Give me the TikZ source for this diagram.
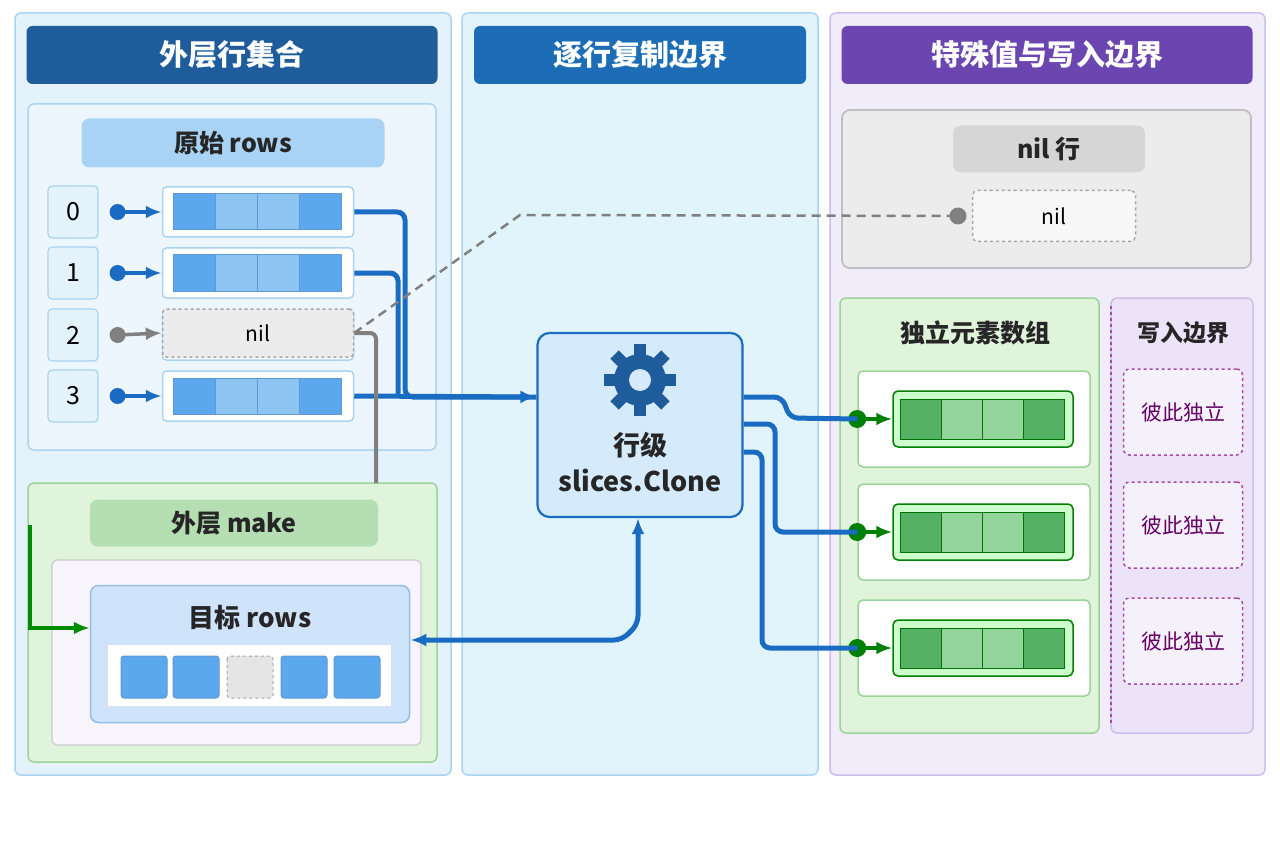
\documentclass[tikz,border=0pt]{standalone}
\usepackage{fontspec}
\setmainfont{Noto Sans CJK SC}
\usetikzlibrary{arrows.meta,positioning,calc}
\definecolor{hdrA}{HTML}{1F5C9C}
\definecolor{hdrB}{HTML}{1C6DB5}
\definecolor{hdrC}{HTML}{6B46B0}
\definecolor{lineB}{HTML}{1A6CC2}
\definecolor{cellB}{HTML}{5BA8EE}
\definecolor{cellBl}{HTML}{8CC4F2}
\definecolor{cellG}{HTML}{55B265}
\definecolor{cellGl}{HTML}{92D49A}
\definecolor{fillA}{HTML}{E4F2FC}
\definecolor{edgeA}{HTML}{A9D3F0}
\definecolor{fillB}{HTML}{E2F4FB}
\definecolor{fillC}{HTML}{F1ECFA}
\definecolor{edgeC}{HTML}{CDBDEC}
\definecolor{fillG}{HTML}{DFF4DA}
\definecolor{edgeG}{HTML}{9CD39A}
\definecolor{fillS}{HTML}{EEF6FD}
\definecolor{fillD}{HTML}{CFE3FA}
\definecolor{fillK}{HTML}{D5EAFB}
\definecolor{fillP}{HTML}{ECE3F8}
\tikzset{>={Latex[length=16pt,width=13pt]}}
\tikzstyle{panel} = [draw=#1, rounded corners=6pt, line width=1.5pt]
\tikzstyle{hdr} = [fill=#1, rounded corners=6pt, text=white, font=\bfseries\fontsize{29}{32}\selectfont]
\tikzstyle{pill} = [rounded corners=8pt, font=\bfseries\fontsize{25}{28}\selectfont, text=black!85]
\tikzstyle{flow} = [draw=lineB, line width=5pt, rounded corners=8pt]
\tikzstyle{cell} = [draw=lineB!70, fill=#1, line width=1pt]
\begin{document}
\begin{tikzpicture}[x=1pt,y=-1pt]
      \useasboundingbox (0,0) rectangle (1280,853);
      \fill[white] (0,0) rectangle (1280,853);
      % three columns
      \draw[panel=edgeA, fill=fillA] (15,13) rectangle (451,775);
      \draw[panel=edgeA, fill=fillB] (462,13) rectangle (818,775);
      \draw[panel=edgeC, fill=fillC] (830,13) rectangle (1265,775);
      \node[hdr=hdrA, minimum width=411pt, minimum height=58pt] (h1) at (232,55) {外层行集合};
      \node[hdr=hdrB, minimum width=332pt, minimum height=58pt] (h2) at (640,55) {逐行复制边界};
      \node[hdr=hdrC, minimum width=411pt, minimum height=58pt] (h3) at (1047,55) {特殊值与写入边界};
      % source rows
      \draw[panel=edgeA, fill=fillS] (28,104) rectangle (436,450);
      \node[pill, fill=cellBl!75, minimum width=303pt, minimum height=49pt] (src) at (233,143) {原始 rows};
      \foreach \i/\y in {0/212,1/273,2/335,3/396}{
        \node[draw=edgeA, fill=fillA, rounded corners=4pt, line width=1.2pt, minimum width=50pt, minimum height=52pt,
              font=\fontsize{25}{28}\selectfont] (idx\i) at (73,\y) {\i};
        \node[draw=edgeA, fill=white, rounded corners=4pt, line width=1.5pt, minimum width=191pt, minimum height=50pt] (row\i) at (258,\y) {};
      }
      \foreach \i in {0,1,3}{
        \fill[lineB] ($(idx\i.east)+(19,0)$) coordinate (d\i) circle (8pt);
        \draw[lineB, line width=3.5pt, ->] (d\i) -- (row\i.west);
        \foreach \k/\c in {0/cellB,1/cellBl,2/cellBl,3/cellB}
          \draw[cell=\c] ($(row\i.west)+(12+42*\k,-18)$) rectangle ++(42,36);
      }
      \node[draw=gray!70, dashed, fill=gray!15, rounded corners=4pt, line width=1.5pt, minimum width=191pt, minimum height=48pt,
            font=\fontsize{21}{24}\selectfont] (nilrow) at (258,333) {nil};
      \fill[gray] ($(idx2.east)+(19,0)$) coordinate (d2) circle (8pt);
      \draw[gray, line width=3.5pt, ->] (d2) -- (nilrow.west);
      % outer make
      \draw[panel=edgeG, fill=fillG] (28,483) rectangle (437,762);
      \node[pill, fill=edgeG!75, minimum width=288pt, minimum height=47pt] (mk) at (234,523) {外层 make};
      \draw[draw=gray!40, fill=fillC!60, rounded corners=5pt, line width=1.2pt] (52,560) rectangle (421,745);
      \node[draw=lineB!45, fill=fillD, rounded corners=8pt, minimum width=319pt, minimum height=137pt,
            line width=1.5pt] (dst) at (250,654) {};
      \node[font=\bfseries\fontsize{26}{28}\selectfont, text=black!85] at (250,618) {目标 rows};
      \fill[white] (108,645) rectangle (391,706);
      \foreach \x in {121,173,281,334}
        \draw[cell=cellB, rounded corners=3pt] (\x,656) rectangle ++(46,42);
      \draw[gray!70, dashed, fill=gray!20, rounded corners=3pt, line width=1pt] (227,656) rectangle ++(46,42);
      % clone
      \node[draw=lineB, fill=fillK, rounded corners=12pt, line width=2.2pt, minimum width=205pt,
            minimum height=184pt] (clone) at (640,425) {};
      \node[font=\bfseries\fontsize{27}{36}\selectfont, align=center, text=black!85] (ct) at (640,462) {行级\\slices.Clone};
      \begin{scope}[shift={(640,380)}]
        \foreach \a in {0,45,...,315}
          \fill[hdrA, rotate=\a] (-6,-36) rectangle (6,-20);
        \fill[hdrA] (0,0) circle (26pt);
        \fill[fillK] (0,0) circle (11pt);
      \end{scope}
      % source connectors
      \draw[flow] (row0.east) -- (405,212) -- (405,397) -- (clone.west |- 0,397);
      \draw[flow] (row1.east) -- (398,273) -- (398,397);
      \draw[flow,->] (row3.east) -- (clone.west |- 0,397);
      \draw[gray, line width=4pt, rounded corners=6pt] (nilrow.east) -- (376,333) -- (376,483);
      \draw[flow,<->] (dst.east |- 0,640) -- (622,640) -- (638,624) -- (clone.south -| 638,0);
      \draw[green!55!black, line width=4pt, ->] (30,525) -- (30,628) -- (dst.west |- 0,628);
      % nil row panel
      \draw[draw=gray!50, fill=gray!15, rounded corners=8pt, line width=1.8pt] (842,110) rectangle (1251,268);
      \node[pill, fill=gray!32, minimum width=192pt, minimum height=47pt] (niltitle) at (1049,149) {nil 行};
      \node[draw=gray!70, dashed, fill=gray!6, rounded corners=5pt, line width=1.5pt, minimum width=163pt, minimum height=51pt,
            font=\fontsize{21}{24}\selectfont] (nilbox) at (1054,216) {nil};
      \fill[gray] (958,216) coordinate (dn) circle (8.5pt);
      \draw[gray, line width=2.5pt, dash pattern=on 9pt off 6pt] (nilrow.east) -- (520,215) -- (dn);
      % independent arrays
      \draw[panel=edgeG, fill=fillG] (840,298) rectangle (1099,733);
      \node[font=\bfseries\fontsize{25}{28}\selectfont, text=black!85] at (975,333) {独立元素数组};
      \draw[draw=edgeC, fill=fillP, rounded corners=6pt, line width=1.5pt] (1111,298) rectangle (1253,733);
      \draw[violet!70, dashed, line width=1.8pt] (1111,306) -- (1111,725);
      \node[font=\bfseries\fontsize{23}{26}\selectfont, text=black!85] at (1183,333) {写入边界};
      \foreach \i/\y in {1/419,2/532,3/648}{
        \node[draw=edgeG, fill=white, rounded corners=5pt, line width=1.5pt, minimum width=232pt, minimum height=96pt] (card\i) at (974,\y) {};
        \node[draw=green!50!black, fill=green!20, rounded corners=5pt, line width=1.5pt, minimum width=180pt, minimum height=56pt] (arr\i) at (983,\y) {};
        \foreach \k/\c in {0/cellG,1/cellGl,2/cellGl,3/cellG}
          \draw[draw=green!45!black, fill=\c, line width=1pt] ($(arr\i.west)+(8+41*\k,-20)$) rectangle ++(41,40);
        \fill[green!50!black] (card\i.west) circle (9pt);
        \draw[green!50!black, line width=3.5pt, ->] (card\i.west) -- (arr\i.west);
        \node[draw=violet!70, dashed, fill=fillP!50, rounded corners=6pt, line width=1.5pt, minimum width=119pt, minimum height=86pt,
              text=violet!80!black, font=\fontsize{21}{24}\selectfont] (ind\i) at (1183,\y-7) {彼此独立};
      }
      \draw[flow] (clone.east |- 0,397) -- (782,397) -- (790,418) -- (card1.west);
      \draw[flow] (clone.east |- 0,424) -- (775,424) -- (775,532) -- (card2.west);
      \draw[flow] (clone.east |- 0,452) -- (762,452) -- (762,648) -- (card3.west);
    \end{tikzpicture}
\end{document}
